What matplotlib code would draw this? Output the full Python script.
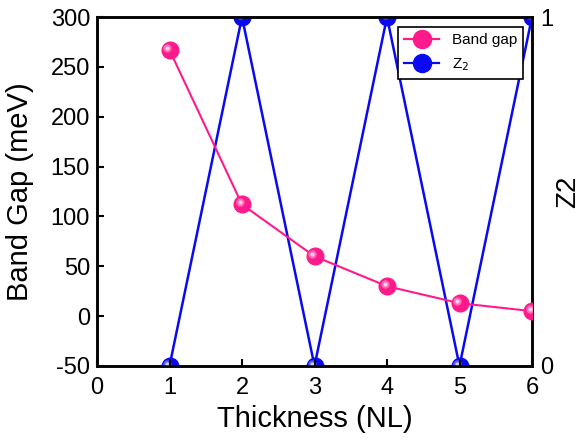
import matplotlib
matplotlib.use("Agg")
import matplotlib.pyplot as plt
import matplotlib.transforms as mtransforms
from matplotlib.lines import Line2D

plt.rcParams["font.family"] = ["Liberation Sans", "DejaVu Sans"]
plt.rcParams["axes.unicode_minus"] = False

thickness = [1, 2, 3, 4, 5, 6]
band_gap = [267, 112, 60, 30, 13, 5]
z2 = [0, 1, 0, 1, 0, 1]

pink = "#ff1a8c"
blue = "#0a0af0"

fig = plt.figure(figsize=(5.85, 4.41), dpi=100)
ax = fig.add_axes([97 / 585, 1 - 366 / 441, (532 - 97) / 585, (366 - 17) / 441])
ax2 = ax.twinx()


def sphere(axis, x, y, color, ms, zorder):
    # base ball plus offset highlights, roughly like the shaded spheres
    axis.plot(x, y, "o", color=color, ms=ms, mec=color, zorder=zorder)
    tr = mtransforms.offset_copy(axis.transData, fig=fig, x=-1.5, y=1.5, units="points")
    axis.plot(x, y, "o", color="white", ms=ms * 0.5, mec="none", alpha=0.35,
              transform=tr, zorder=zorder + 0.1)
    axis.plot(x, y, "o", color="white", ms=ms * 0.25, mec="none", alpha=0.7,
              transform=tr, zorder=zorder + 0.2)


ax2.plot(thickness, z2, "-", color=blue, lw=1.8, zorder=3)
sphere(ax2, thickness, z2, blue, 12, 3)
ax.plot(thickness, band_gap, "-", color=pink, lw=1.5, zorder=3)
sphere(ax, thickness, band_gap, pink, 12, 3)

ax.set_zorder(ax2.get_zorder() + 1)
ax.patch.set_visible(False)

ax.set_xlim(0, 6)
ax.set_ylim(-50, 300)
ax2.set_ylim(0, 1)
ax.set_xticks(range(0, 7))
ax.set_yticks(range(-50, 301, 50))
ax2.set_yticks([0, 1])

ax.tick_params(axis="y", direction="in", length=5, width=1.5, labelsize=17, pad=5)
ax.tick_params(axis="x", direction="in", length=5, width=1.5, labelsize=17, pad=8,
               top=False)
ax2.tick_params(direction="in", length=0, labelsize=17, pad=6)

for a in (ax, ax2):
    for s in a.spines.values():
        s.set_linewidth(1.8)

ax.set_xlabel("Thickness (NL)", fontsize=21, labelpad=4)
ax.set_ylabel("Band Gap (meV)", fontsize=21, labelpad=12)
ax2.set_ylabel("Z2", fontsize=20, labelpad=1)

handles = [
    Line2D([], [], color=pink, marker="o", ms=13, lw=1.6),
    Line2D([], [], color=blue, marker="o", ms=13, lw=1.6),
]
leg = ax.legend(handles, ["Band gap", "Z$_2$"], loc="upper right",
                bbox_to_anchor=(0.99, 0.985), fontsize=11, fancybox=False,
                edgecolor="black", framealpha=1, handlelength=2.3,
                borderaxespad=0.3, labelspacing=0.6)
leg.get_frame().set_linewidth(1.2)

fig.savefig("out.png", dpi=100)
